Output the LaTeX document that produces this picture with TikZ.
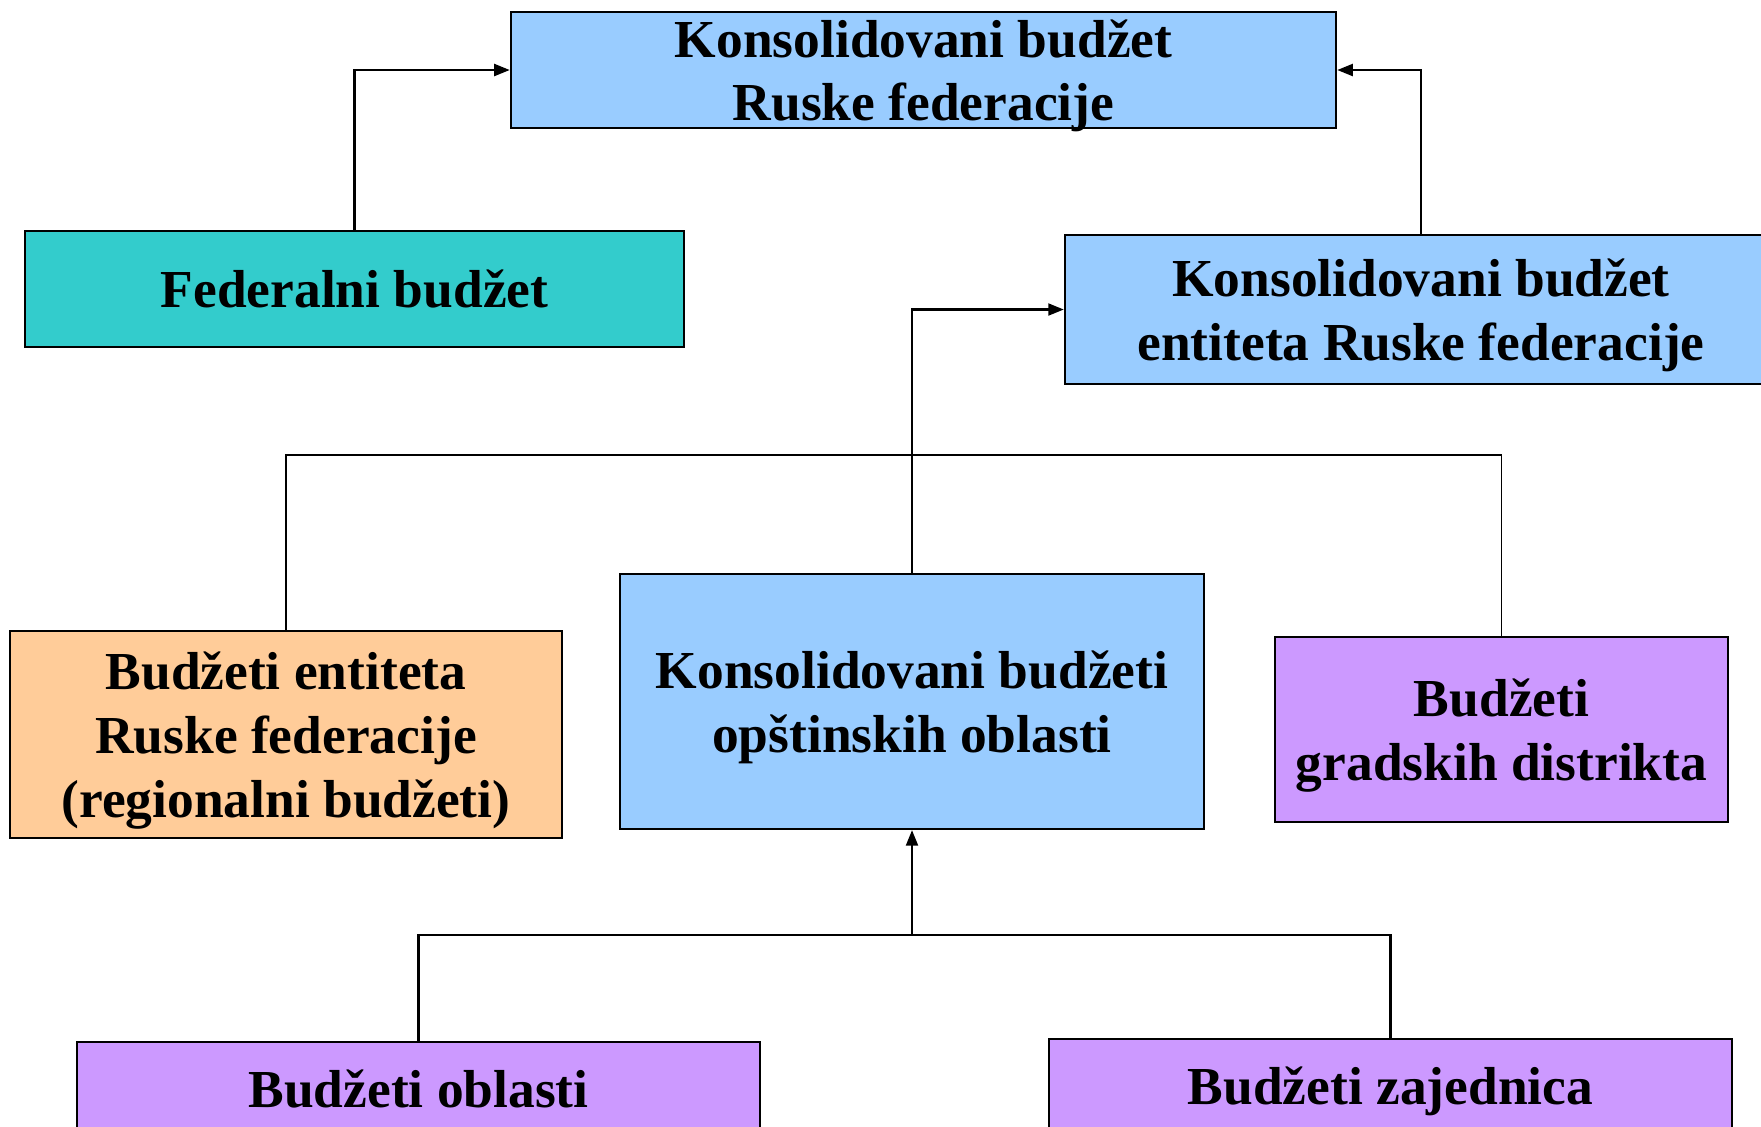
\documentclass[tikz,border=0pt]{standalone}
\usepackage{fontspec}
\setmainfont{Liberation Serif}
\usetikzlibrary{arrows.meta}
\definecolor{bblue}{HTML}{99CCFF}
\definecolor{bteal}{HTML}{33CCCC}
\definecolor{borange}{HTML}{FFCC99}
\definecolor{bpurple}{HTML}{CC99FF}
\tikzset{
  box/.style={draw=black, line width=0.6pt, inner sep=0pt, align=center,
    text depth=0pt, font=\fontsize{15.2}{18.1}\selectfont\bfseries},
  arr/.style={line width=0.6pt, -{Triangle[length=4.4pt,width=3.4pt]}},
  conn/.style={line width=0.6pt},
  bar/.style={line width=0.45pt}
}
\begin{document}
\begin{tikzpicture}[x=0.01cm,y=-0.01cm]
\useasboundingbox (0,0) rectangle (1761,1126);
\node[box, fill=bblue, minimum width=8.25cm, minimum height=1.16cm] (top) at (923.5,70)
  {Konsolidovani budžet\\Ruske federacije};
\node[box, fill=bteal, minimum width=6.59cm, minimum height=1.16cm] (fed) at (354.5,289)
  {Federalni budžet};
\node[box, fill=bblue, minimum width=7.12cm, minimum height=1.49cm] (ent) at (1421,309.5)
  {Konsolidovani budžet\\entiteta Ruske federacije};
\node[box, fill=borange, minimum width=5.52cm, minimum height=2.07cm] (reg) at (286,734.5)
  {Budžeti entiteta\\Ruske federacije\\(regionalni budžeti)};
\node[box, fill=bblue, minimum width=5.84cm, minimum height=2.55cm] (opst) at (912,701.5)
  {Konsolidovani budžeti\\opštinskih oblasti};
\node[box, fill=bpurple, minimum width=4.53cm, minimum height=1.85cm] (grad) at (1501.5,729.5)
  {Budžeti\\gradskih distrikta};
\node[box, fill=bpurple, minimum width=6.83cm, minimum height=0.94cm] (obl) at (418.5,1089)
  {Budžeti oblasti};
\node[box, fill=bpurple, minimum width=6.83cm, minimum height=0.94cm] (zaj) at (1390.5,1086)
  {Budžeti zajednica};
\coordinate (barY) at (0,455);
\coordinate (joinY) at (0,935);
\draw[arr] (fed.north) |- (top.west);
\draw[arr] (ent.north) |- (top.east);
\draw[bar] (reg.north) -- (reg.north |- barY) -- (grad.north |- barY) -- (grad.north);
\draw[arr] (opst.north) |- (ent.west);
\draw[conn] (obl.north) -- (obl.north |- joinY) -- (zaj.north |- joinY) -- (zaj.north);
\draw[arr] (opst.south |- joinY) -- (opst.south);
\end{tikzpicture}
\end{document}
